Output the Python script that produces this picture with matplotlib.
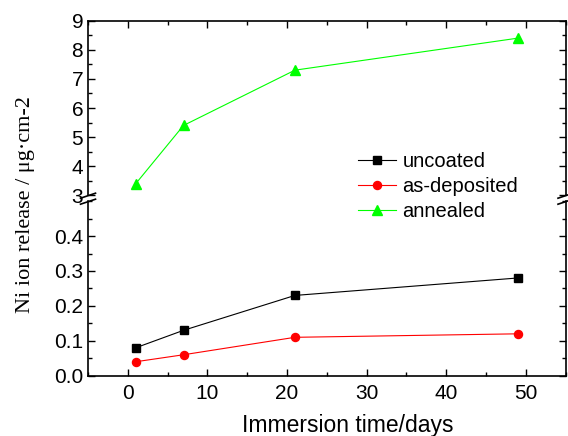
import matplotlib
matplotlib.use('Agg')
import matplotlib.pyplot as plt
from matplotlib.lines import Line2D
from matplotlib.ticker import MultipleLocator

days = [1, 7, 21, 49]
uncoated = [0.08, 0.13, 0.23, 0.28]
as_deposited = [0.04, 0.06, 0.11, 0.12]
annealed = [3.4, 5.4, 7.3, 8.4]

plt.rcParams['font.family'] = ['Liberation Sans', 'DejaVu Sans']

W, H = 568, 436
fig = plt.figure(figsize=(W / 100, H / 100), dpi=100)

left, right = 88 / W, 565.5 / W
top_ax = fig.add_axes([left, 1 - 195.3 / H, right - left, (195.3 - 20.7) / H])
bot_ax = fig.add_axes([left, 1 - 375.7 / H, right - left, (375.7 - 201.2) / H])

lw = 0.8
ms = 5.8
for ax in (top_ax, bot_ax):
    ax.plot(days, uncoated, color='black', marker='s', lw=lw, ms=ms, label='uncoated')
    ax.plot(days, as_deposited, color='#ff0000', marker='o', lw=lw, ms=ms, label='as-deposited')
    ax.plot(days, annealed, color='#00ff00', marker='^', lw=lw, ms=ms + 1, label='annealed')
    ax.set_xlim(-5, 55)
    ax.xaxis.set_major_locator(MultipleLocator(10))
    ax.xaxis.set_minor_locator(MultipleLocator(5))
    for s in ax.spines.values():
        s.set_linewidth(1.2)
    ax.tick_params(which='both', direction='in', width=1.0, labelsize=15)
    ax.tick_params(which='major', length=5)
    ax.tick_params(which='minor', length=3)

top_ax.set_ylim(3, 9)
top_ax.yaxis.set_major_locator(MultipleLocator(1))
top_ax.yaxis.set_minor_locator(MultipleLocator(0.5))
top_ax.spines['bottom'].set_visible(False)
top_ax.tick_params(which='both', bottom=False, labelbottom=False, top=True, right=True)

bot_ax.set_ylim(0, 0.5)
bot_ax.set_yticks([0.0, 0.1, 0.2, 0.3, 0.4])
bot_ax.set_yticklabels(['0.0', '0.1', '0.2', '0.3', '0.4'])
bot_ax.yaxis.set_minor_locator(MultipleLocator(0.05))
bot_ax.spines['top'].set_visible(False)
bot_ax.tick_params(which='both', top=False, right=True)
bot_ax.tick_params(axis='x', pad=6)

# axis break marks
def slash(xc, yc):
    fig.add_artist(Line2D([(xc - 7.5) / W, (xc + 7.5) / W],
                          [1 - (yc + 2.5) / H, 1 - (yc - 2.5) / H],
                          color='black', lw=1.2))

for xc in (88, 565.5):
    slash(xc, 195.7)
    slash(xc, 201.7)

fig.text(347.5 / W, 1 - 432 / H, 'Immersion time/days', fontsize=16.5,
         ha='center', va='baseline')
fig.text(25.6 / W, 1 - 204.5 / H, 'Ni ion release / μg·cm-2', fontsize=16,
         rotation=90, ha='center', va='center',
         family=['Liberation Serif', 'DejaVu Serif'])

handles, labels = bot_ax.get_legend_handles_labels()
fig.legend(handles, labels, loc='upper left',
           bbox_to_anchor=(358 / W, 1 - 152 / H), frameon=False,
           fontsize=14.5, handlelength=1.9, handletextpad=0.3,
           labelspacing=0.3, borderpad=0, borderaxespad=0)

fig.savefig('out.png', dpi=100)
